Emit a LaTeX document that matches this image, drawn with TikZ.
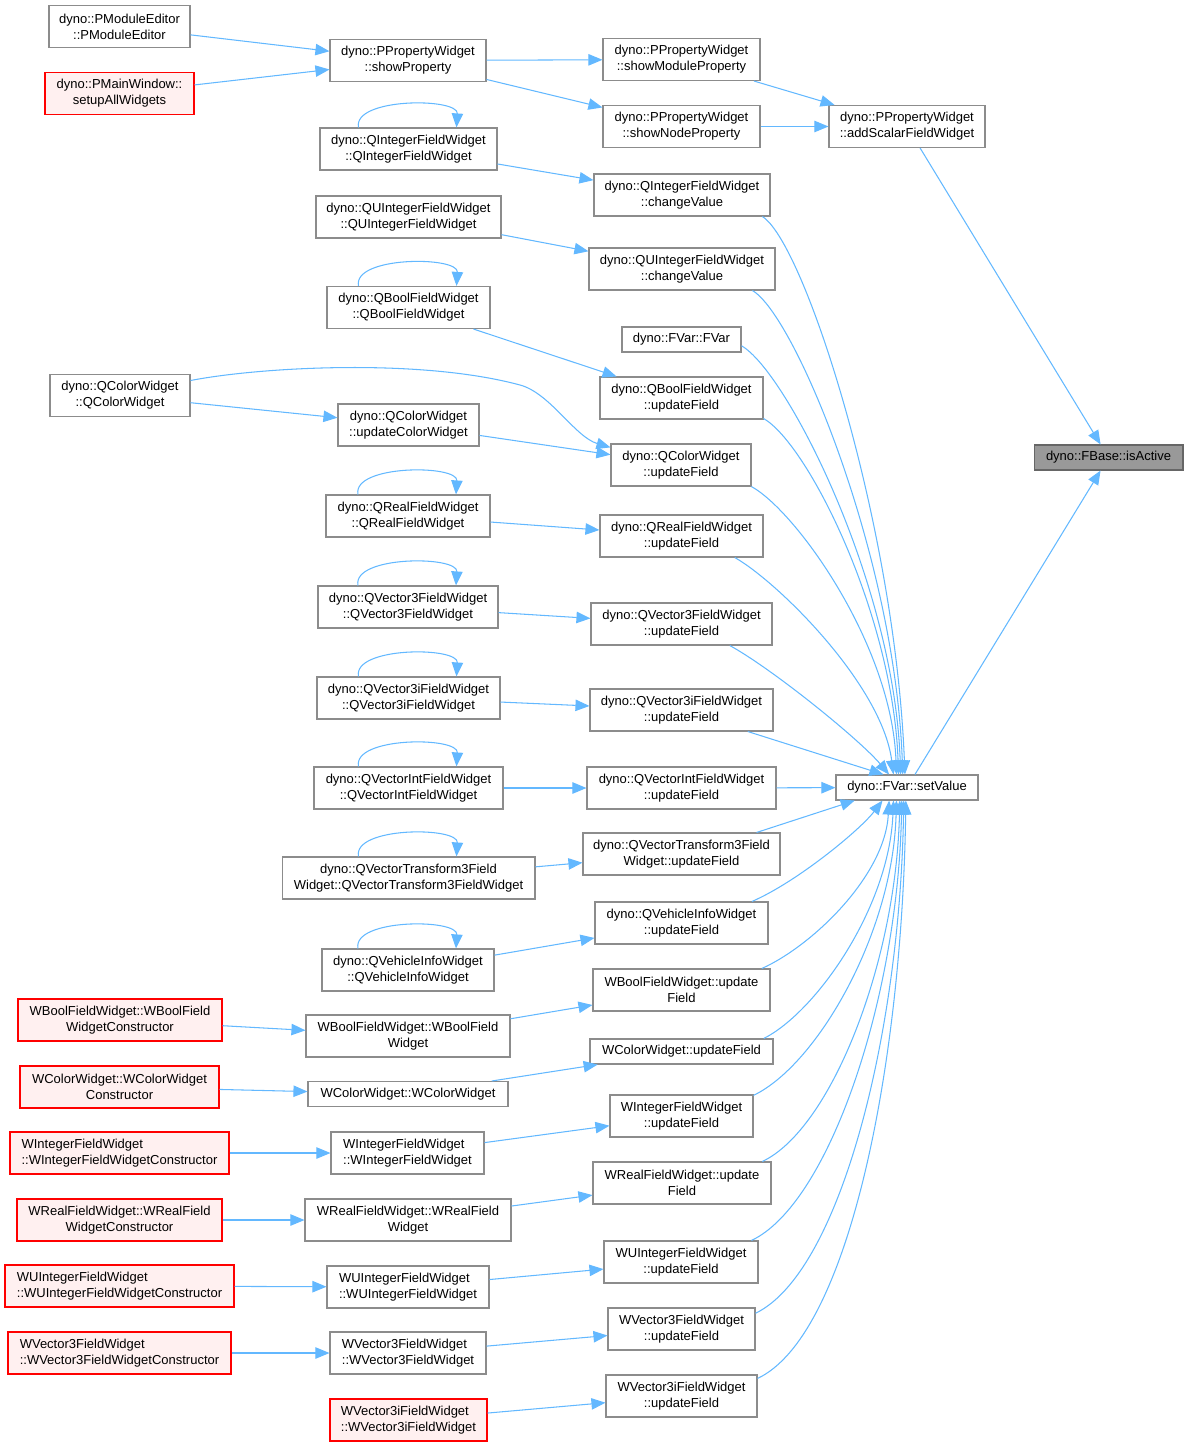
\documentclass[tikz,border=0pt]{standalone}
\usepackage{fontspec}
\usetikzlibrary{arrows.meta,calc}
\newfontfamily\dxfont{Liberation Sans}
\definecolor{dxedge}{HTML}{63B8FF}
\definecolor{dxline}{HTML}{8C8C8C}
\definecolor{dxred}{HTML}{FF0000}
\definecolor{dxredfill}{HTML}{FFF0F0}
\definecolor{dxcur}{HTML}{999999}
\definecolor{dxcurline}{HTML}{666666}
\tikzset{
  fn/.style={draw=dxline, fill=white, line width=0.6pt, align=center,
    minimum height=0.84cm, inner xsep=2pt, inner ysep=1pt,
    font=\dxfont\fontsize{7.4}{9.1}\selectfont},
  fnred/.style={fn, draw=dxred, fill=dxredfill},
  fncur/.style={fn, draw=dxcurline, fill=dxcur},
  oneline/.style={minimum height=0.5cm},
  call/.style={draw=dxedge, line width=0.6pt, -{Triangle[length=8pt,width=6.5pt]}},
}
\begin{document}
\begin{tikzpicture}[x=0.02cm,y=-0.02cm]
  \useasboundingbox (0,0) rectangle (1189,1447);
  % callers of showProperty
  \node[fn, minimum width=2.82cm] (pme) at (119.5,26.5) {dyno::PModuleEditor\\::PModuleEditor};
  \node[fnred, minimum width=2.98cm] (pmw) at (119.5,93.5) {dyno::PMainWindow::\\setupAllWidgets};
  \node[fn, minimum width=3.12cm] (shp) at (408,60.5) {dyno::PPropertyWidget\\::showProperty};
  \node[fn, minimum width=3.14cm] (smp) at (681.5,59.5) {dyno::PPropertyWidget\\::showModuleProperty};
  \node[fn, minimum width=3.14cm] (snp) at (681.5,126.5) {dyno::PPropertyWidget\\::showNodeProperty};
  \node[fn, minimum width=3.12cm] (asf) at (907,126.5) {dyno::PPropertyWidget\\::addScalarFieldWidget};
  \node[fncur, oneline, minimum width=2.98cm] (isa) at (1108.5,457.5) {dyno::FBase::isActive};
  \node[fn, oneline, minimum width=2.84cm] (setv) at (907,787.5) {dyno::FVar::setValue};
  % Q widgets
  \node[fn, minimum width=3.54cm] (qic) at (408.5,149) {dyno::QIntegerFieldWidget\\::QIntegerFieldWidget};
  \node[fn, minimum width=3.52cm] (qicv) at (682,195) {dyno::QIntegerFieldWidget\\::changeValue};
  \node[fn, minimum width=3.70cm] (quic) at (408.5,217) {dyno::QUIntegerFieldWidget\\::QUIntegerFieldWidget};
  \node[fn, minimum width=3.72cm] (quicv) at (682,269) {dyno::QUIntegerFieldWidget\\::changeValue};
  \node[fn, minimum width=3.26cm] (qbc) at (408.5,307.5) {dyno::QBoolFieldWidget\\::QBoolFieldWidget};
  \node[fn, oneline, minimum width=2.38cm] (fvar) at (681.5,339.5) {dyno::FVar::FVar};
  \node[fn, minimum width=2.80cm] (qcc) at (120,395.5) {dyno::QColorWidget\\::QColorWidget};
  \node[fn, minimum width=3.26cm] (qbuf) at (681.5,398) {dyno::QBoolFieldWidget\\::updateField};
  \node[fn, minimum width=2.82cm] (qcucw) at (408.5,425) {dyno::QColorWidget\\::updateColorWidget};
  \node[fn, minimum width=2.80cm] (qcuf) at (681,465) {dyno::QColorWidget\\::updateField};
  \node[fn, minimum width=3.28cm] (qrc) at (408,516) {dyno::QRealFieldWidget\\::QRealFieldWidget};
  \node[fn, minimum width=3.26cm] (qruf) at (681.5,536) {dyno::QRealFieldWidget\\::updateField};
  \node[fn, minimum width=3.60cm] (qv3c) at (408,607) {dyno::QVector3FieldWidget\\::QVector3FieldWidget};
  \node[fn, minimum width=3.62cm] (qv3uf) at (681.5,624) {dyno::QVector3FieldWidget\\::updateField};
  \node[fn, minimum width=3.66cm] (qv3ic) at (408.5,698) {dyno::QVector3iFieldWidget\\::QVector3iFieldWidget};
  \node[fn, minimum width=3.66cm] (qv3iuf) at (681.5,710) {dyno::QVector3iFieldWidget\\::updateField};
  \node[fn, minimum width=3.78cm] (qvic) at (408.5,788) {dyno::QVectorIntFieldWidget\\::QVectorIntFieldWidget};
  \node[fn, minimum width=3.78cm] (qviuf) at (681.5,788) {dyno::QVectorIntFieldWidget\\::updateField};
  \node[fn, minimum width=5.06cm] (qvtc) at (408.5,878) {dyno::QVectorTransform3Field\\Widget::QVectorTransform3FieldWidget};
  \node[fn, minimum width=3.94cm] (qvtuf) at (681.5,854) {dyno::QVectorTransform3Field\\Widget::updateField};
  \node[fn, minimum width=3.44cm] (qvhc) at (408,970) {dyno::QVehicleInfoWidget\\::QVehicleInfoWidget};
  \node[fn, minimum width=3.46cm] (qvhuf) at (681.5,923) {dyno::QVehicleInfoWidget\\::updateField};
  % W widgets
  \node[fnred, minimum width=4.08cm] (wbcon) at (120,1020) {WBoolFieldWidget::WBoolField\\WidgetConstructor};
  \node[fn, minimum width=4.08cm] (wbc) at (408,1036) {WBoolFieldWidget::WBoolField\\Widget};
  \node[fn, minimum width=3.54cm] (wbuf) at (681.5,990) {WBoolFieldWidget::update\\Field};
  \node[fnred, minimum width=3.98cm] (wccon) at (119.5,1087) {WColorWidget::WColorWidget\\Constructor};
  \node[fn, oneline, minimum width=4.00cm] (wcc) at (408,1094) {WColorWidget::WColorWidget};
  \node[fn, oneline, minimum width=3.66cm] (wcuf) at (681.5,1051.5) {WColorWidget::updateField};
  \node[fnred, align=left, minimum width=4.38cm] (wicon) at (119.5,1153) {WIntegerFieldWidget\\::WIntegerFieldWidgetConstructor};
  \node[fn, align=left, minimum width=3.06cm] (wic) at (407.5,1153) {WIntegerFieldWidget\\::WIntegerFieldWidget};
  \node[fn, minimum width=2.86cm] (wiuf) at (681.5,1116) {WIntegerFieldWidget\\::updateField};
  \node[fnred, minimum width=4.10cm] (wrcon) at (119.5,1220) {WRealFieldWidget::WRealField\\WidgetConstructor};
  \node[fn, minimum width=4.12cm] (wrc) at (408,1220) {WRealFieldWidget::WRealField\\Widget};
  \node[fn, minimum width=3.56cm] (wruf) at (682,1183) {WRealFieldWidget::update\\Field};
  \node[fnred, align=left, minimum width=4.58cm] (wucon) at (119.5,1286) {WUIntegerFieldWidget\\::WUIntegerFieldWidgetConstructor};
  \node[fn, align=left, minimum width=3.24cm] (wuc) at (408,1287) {WUIntegerFieldWidget\\::WUIntegerFieldWidget};
  \node[fn, minimum width=3.08cm] (wuuf) at (681,1262) {WUIntegerFieldWidget\\::updateField};
  \node[fnred, align=left, minimum width=4.46cm] (wv3con) at (119.5,1353) {WVector3FieldWidget\\::WVector3FieldWidgetConstructor};
  \node[fn, align=left, minimum width=3.12cm] (wv3c) at (408,1353) {WVector3FieldWidget\\::WVector3FieldWidget};
  \node[fn, minimum width=2.94cm] (wv3uf) at (681.5,1329) {WVector3FieldWidget\\::updateField};
  \node[fnred, align=left, minimum width=3.14cm] (wv3ic) at (408.5,1420) {WVector3iFieldWidget\\::WVector3iFieldWidget};
  \node[fn, minimum width=3.02cm] (wv3iuf) at (681.5,1396) {WVector3iFieldWidget\\::updateField};

  % straight calls
  \draw[call] (pme) -- (shp);
  \draw[call] (pmw) -- (shp);
  \draw[call] (shp) -- (smp);
  \draw[call] (shp) -- (snp);
  \draw[call] (smp) -- (asf);
  \draw[call] (snp) -- (asf);
  \draw[call] (asf) -- (isa);
  \draw[call] (setv) -- (isa);
  \draw[call] (qic) -- (qicv);
  \draw[call] (quic) -- (quicv);
  \draw[call] (qbc) -- (qbuf);
  \draw[call] (qcc) -- (qcucw);
  \draw[call] (qcucw) -- (qcuf);
  \draw[call] (qcc.12) .. controls (260,367) and (420,358) .. (520,385)
     .. controls (550,393) and (575,437) .. (qcuf.166);
  \draw[call] (qrc) -- (qruf);
  \draw[call] (qv3c) -- (qv3uf);
  \draw[call] (qv3ic) -- (qv3iuf);
  \draw[call] (qvic) -- (qviuf);
  \draw[call] (qvtc) -- (qvtuf);
  \draw[call] (qvhc) -- (qvhuf);
  \draw[call] (wbcon) -- (wbc);
  \draw[call] (wbc) -- (wbuf);
  \draw[call] (wccon) -- (wcc);
  \draw[call] (wcc) -- (wcuf);
  \draw[call] (wicon) -- (wic);
  \draw[call] (wic) -- (wiuf);
  \draw[call] (wrcon) -- (wrc);
  \draw[call] (wrc) -- (wruf);
  \draw[call] (wucon) -- (wuc);
  \draw[call] (wuc) -- (wuuf);
  \draw[call] (wv3con) -- (wv3c);
  \draw[call] (wv3c) -- (wv3uf);
  \draw[call] (wv3ic) -- (wv3iuf);

  % recursive constructors
  \foreach \n in {qic,qbc,qrc,qv3c,qv3ic,qvic,qvtc,qvhc}
    \draw[call] ($(\n.north)+(-50,0)$) .. controls +(-6,-30) and +(2,-30) .. ($(\n.north)+(48,0)$);

  % into setValue from above
  \draw[call] (qicv.-15) .. controls (804,242) and (895,524) .. (setv.99);
  \draw[call] (quicv.-17) .. controls (795,315) and (895,557) .. (setv.108);
  \draw[call] (fvar.-6) .. controls (786,371) and (894,582) .. (setv.116);
  \draw[call] (qbuf.-14) .. controls (808,444) and (893,615) .. (setv.123);
  \draw[call] (qcuf.-17) .. controls (796,511) and (892,645) .. (setv.129);
  \draw[call] (qruf.-22) .. controls (778,582) and (882,685) .. (setv.136);
  \draw[call] (qv3uf.-24) .. controls (774,670) and (860,740) .. (setv.144);
  \draw[call] (qv3iuf.-18) -- (setv.151);
  \draw[call] (qviuf) -- (setv);
  % into setValue from below
  \draw[call] (qvtuf.16) -- (setv.-166);
  \draw[call] (qvhuf.17) .. controls (797,882) and (860,830) .. (setv.-152);
  \draw[call] (wbuf.15) .. controls (812,946) and (885,876) .. (setv.-144);
  \draw[call] (wcuf.9) .. controls (816,1012) and (889,908) .. (setv.-136);
  \draw[call] (wiuf.16) .. controls (817,1065) and (893,933) .. (setv.-129);
  \draw[call] (wruf.15) .. controls (831,1129) and (896,963) .. (setv.-119);
  \draw[call] (wuuf.17) .. controls (829,1204) and (898,998) .. (setv.-112);
  \draw[call] (wv3uf.12) .. controls (841,1272) and (900,1031) .. (setv.-104);
  \draw[call] (wv3iuf.13) .. controls (850,1335) and (902,1061) .. (setv.-95);
\end{tikzpicture}
\end{document}
